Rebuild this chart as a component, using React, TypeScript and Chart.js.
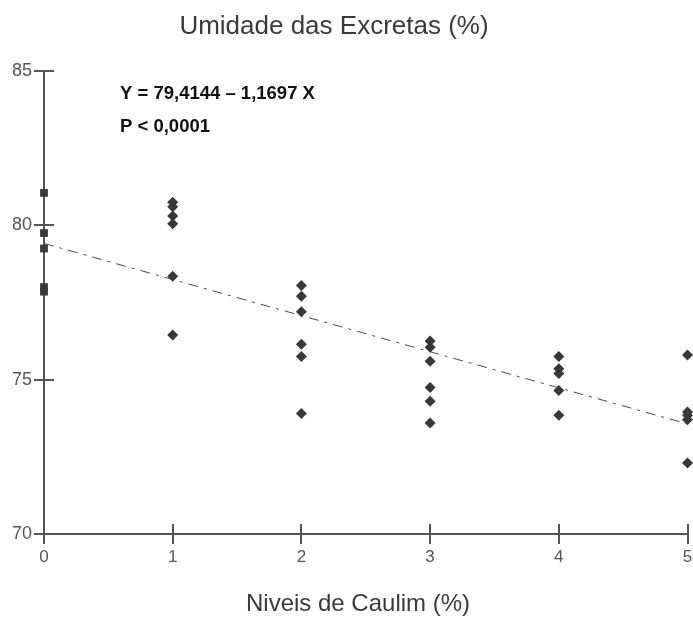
import React, { useEffect, useRef } from 'react';
import { Chart, registerables } from 'chart.js';

Chart.register(...registerables);

// ---- data ----
const levels = [0, 1, 2, 3, 4, 5];
const moistureAt0 = [81.05, 79.75, 79.25, 78.0, 77.85];
const moistureAt1 = [80.75, 80.6, 80.3, 80.05, 78.35, 76.45];
const moistureAt2 = [78.05, 77.7, 77.2, 76.15, 75.75, 73.9];
const moistureAt3 = [76.25, 76.05, 75.6, 74.75, 74.3, 73.6];
const moistureAt4 = [75.75, 75.35, 75.2, 74.65, 73.85];
const moistureAt5 = [75.8, 73.95, 73.85, 73.7, 72.3];
const fitX = [0, 5];
const fitY = [79.4144, 73.5659];
const yTicks = [70, 75, 80, 85];
const titleText = 'Umidade das Excretas (%)';
const xTitleText = 'Niveis de Caulim (%)';
const equationText = 'Y = 79,4144 \u2013 1,1697 X';
const pText = 'P < 0,0001';

const FONT = '"Liberation Sans", Arial, sans-serif';

export default function App() {
  const ref = useRef<HTMLCanvasElement>(null);

  useEffect(() => {
    if (!ref.current) return;
    const groups = [moistureAt0, moistureAt1, moistureAt2, moistureAt3, moistureAt4, moistureAt5];
    const points: { x: number; y: number }[] = [];
    groups.forEach((vals, i) => vals.forEach((v) => points.push({ x: levels[i], y: v })));
    const styles = points.map((p) => (p.x === 0 ? 'rect' : 'rectRot'));

    const overlay = {
      id: 'overlay',
      beforeDatasetsDraw(chart: any) {
        const ctx = chart.ctx;
        const xs = chart.scales.x;
        const ys = chart.scales.y;
        const area = chart.chartArea;
        ctx.save();
        ctx.strokeStyle = '#555';
        ctx.lineWidth = 2;
        ctx.beginPath();
        yTicks.forEach((v) => {
          const py = Math.round(ys.getPixelForValue(v));
          ctx.moveTo(area.left, py);
          ctx.lineTo(area.left + 10, py);
        });
        levels.forEach((v) => {
          const px = Math.round(xs.getPixelForValue(v));
          ctx.moveTo(px, area.bottom);
          ctx.lineTo(px, area.bottom - 10);
        });
        ctx.stroke();
        ctx.restore();
      },
      afterDraw(chart: any) {
        const ctx = chart.ctx;
        ctx.save();
        ctx.fillStyle = '#3a3a3a';
        ctx.textAlign = 'center';
        ctx.textBaseline = 'middle';
        ctx.font = `26px ${FONT}`;
        ctx.fillText(titleText, 334, 27);
        ctx.font = `24px ${FONT}`;
        ctx.fillText(xTitleText, 358, 604);
        ctx.fillStyle = '#111';
        ctx.textAlign = 'left';
        ctx.font = `bold 18.5px ${FONT}`;
        ctx.fillText(equationText, 120, 94);
        ctx.fillText(pText, 120, 127);
        ctx.restore();
      },
    };

    const chart = new Chart(ref.current, {
      type: 'scatter',
      data: {
        datasets: [
          {
            label: 'Umidade',
            data: points,
            pointStyle: styles as any,
            pointRadius: 5.5,
            pointHoverRadius: 5.5,
            backgroundColor: '#383838',
            borderColor: '#383838',
            borderWidth: 0,
            clip: false as any,
          },
          {
            type: 'line',
            label: 'Regressão',
            data: fitX.map((x, i) => ({ x, y: fitY[i] })),
            borderColor: '#4a4a4a',
            borderWidth: 1,
            borderDash: [10, 6, 3, 6],
            pointRadius: 0,
            fill: false,
            clip: false as any,
          } as any,
        ],
      },
      options: {
        animation: false,
        responsive: false,
        layout: { padding: { top: 71, right: 4, left: 0, bottom: 0 } },
        plugins: {
          legend: { display: false },
          title: { display: false },
          tooltip: { enabled: false },
        },
        scales: {
          x: {
            type: 'linear',
            min: 0,
            max: 5,
            afterBuildTicks: (s: any) => {
              s.ticks = levels.map((v) => ({ value: v }));
            },
            ticks: {
              color: '#555',
              font: { family: FONT, size: 17 },
              padding: 3,
              maxRotation: 0,
              autoSkip: false,
            },
            grid: { drawOnChartArea: false, drawTicks: true, tickLength: 10, color: '#555', lineWidth: 2 },
            border: { display: true, color: '#555', width: 2 },
            afterFit: (s: any) => {
              s.height = 85;
              s.paddingLeft = 0;
              s.paddingRight = 0;
            },
          },
          y: {
            type: 'linear',
            min: 70,
            max: 85,
            afterBuildTicks: (s: any) => {
              s.ticks = yTicks.map((v) => ({ value: v }));
            },
            ticks: {
              color: '#555',
              font: { family: FONT, size: 18 },
              padding: 2,
            },
            grid: { drawOnChartArea: false, drawTicks: true, tickLength: 10, color: '#555', lineWidth: 2 },
            border: { display: true, color: '#555', width: 2 },
            afterFit: (s: any) => {
              s.width = 44;
              s.paddingTop = 0;
              s.paddingBottom = 0;
            },
          },
        },
      },
      plugins: [overlay],
    });
    return () => chart.destroy();
  }, []);

  return (
    <div style={{ position: 'fixed', left: 0, top: 0, width: 693, height: 619, background: '#fff' }}>
      <canvas ref={ref} width={693} height={619} style={{ display: 'block' }} />
    </div>
  );
}
